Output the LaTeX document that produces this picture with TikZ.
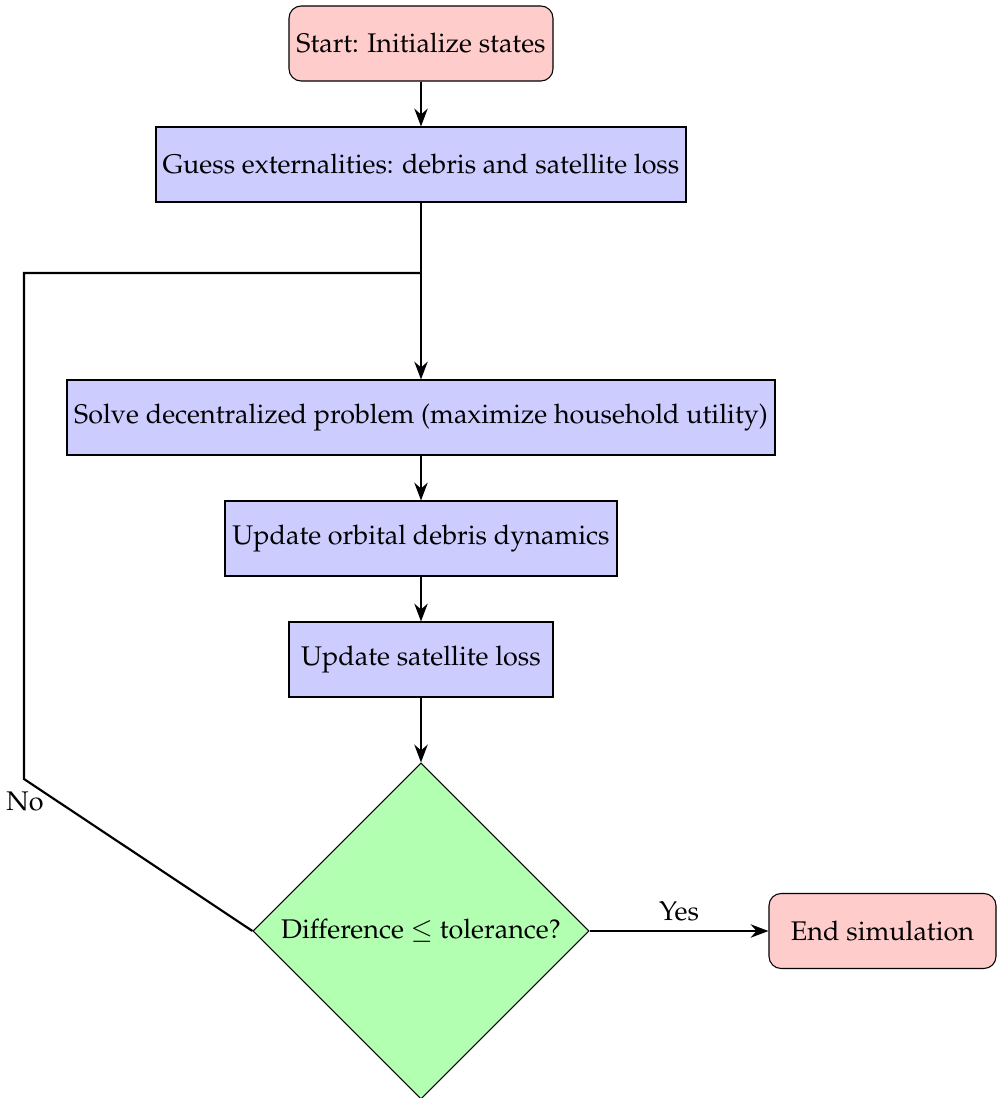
\documentclass[tikz,border=0pt]{standalone}
\usepackage[T1]{fontenc}
\usepackage{mathpazo}
\usetikzlibrary{shapes.geometric,arrows.meta}
\newlength\pxu
\setlength\pxu{0.371pt}
\begin{document}
\begin{tikzpicture}[x=\pxu,y=-\pxu,>=Stealth,
  boxnode/.style={draw=black,thin,fill=blue!20,minimum height=75\pxu,inner sep=0pt},
  termnode/.style={draw=black,thin,fill=red!20,rounded corners=4.5pt,minimum height=75\pxu,inner sep=0pt},
  decnode/.style={diamond,draw=black,thin,fill=green!30,minimum width=336\pxu,minimum height=336\pxu,inner sep=0pt,aspect=1},
  arr/.style={->,thick},
  ln/.style={thick}]
\useasboundingbox (0,0) rectangle (996,1098);
\node[termnode,minimum width=264\pxu] (start) at (421,43.5) {Start: Initialize states};
\node[boxnode,minimum width=530\pxu] (guess) at (421,164.5) {Guess externalities: debris and satellite loss};
\node[boxnode,minimum width=708\pxu] (solve) at (421,417.5) {Solve decentralized problem (maximize household utility)};
\node[boxnode,minimum width=392\pxu] (orbit) at (421,538.5) {Update orbital debris dynamics};
\node[boxnode,minimum width=264\pxu] (sat) at (421,659.5) {Update satellite loss};
\node[decnode] (dec) at (421,931) {Difference $\leq$ tolerance?};
\node[termnode,minimum width=227\pxu] (end) at (882.5,931) {End simulation};
\coordinate (cno) at (24,779);
\coordinate (jn) at (421,273);
\draw[arr] (start) -- (guess);
\draw[arr] (guess) -- (solve);
\draw[arr] (solve) -- (orbit);
\draw[arr] (orbit) -- (sat);
\draw[arr] (sat) -- (dec);
\draw[arr] (dec.east) -- node[above] (yes) {Yes} (end.west);
\draw[ln] (dec.west) -- (cno) |- (jn);
\node (no) at (25,801) {No};
\end{tikzpicture}
\end{document}
